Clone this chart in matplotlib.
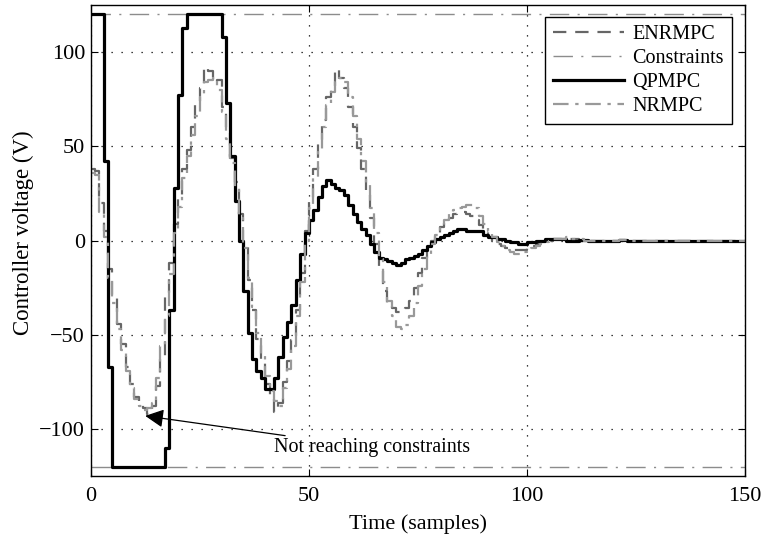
import numpy as np
import matplotlib
matplotlib.use("Agg")
import matplotlib.pyplot as plt

plt.rcParams['font.family'] = ['Liberation Serif', 'DejaVu Serif']
plt.rcParams['mathtext.fontset'] = 'stix'

# controller voltage per sample
qpmpc = [120, 120, 120, 42, -67, -120, -120, -120, -120, -120,
         -120, -120, -120, -120, -120, -120, -120, -110, -37, 28,
         77, 113, 120, 120, 120, 120, 120, 120, 120, 120,
         108, 73, 45, 21, 0, -27, -49, -63, -69, -73,
         -79, -79, -73, -62, -51, -43, -34, -21, -7, 4,
         11, 16, 23, 29, 32, 30, 28, 27, 24, 19,
         14, 10, 6, 3, -2, -6, -9, -10, -11, -12,
         -13, -12, -10, -9, -8, -7, -5, -3, -1, 1,
         2, 3, 4, 5, 6, 6, 5, 5, 5, 5,
         3, 2, 2, 1, 1, 0, -1, -1, -2, -2,
         -1, -1, 0, 0, 1, 1, 1, 1, 1, 0,
         0, 0, 0.5, 0.5, 0, 0, 0, -0.5, 0, 0,
         0, 0.5, 0.5, 0, 0, 0, 0, 0, 0, 0,
         0, 0, 0, 0, 0, 0, 0, 0, 0, 0,
         0, 0, 0, 0, 0, 0, 0, 0, 0, 0, 0]

enrmpc = [38, 37, 20, 5, -15, -30, -44, -55, -67, -76,
          -83, -86, -89, -92, -88, -77, -61, -30, -12, 9,
          23, 38, 48, 60, 74, 81, 92, 90, 84, 85,
          71, 57, 44, 31, 14, -1, -21, -37, -52, -64,
          -76, -84, -91, -86, -75, -64, -53, -37, -17, 5,
          22, 38, 52, 64, 76, 82, 91, 86, 81, 71,
          60, 49, 38, 24, 12, -2, -16, -27, -33, -36,
          -38, -37, -36, -32, -25, -17, -9, -4, 0, 3,
          7, 10, 12, 14, 15, 15, 14, 13, 11, 8,
          5, 2, 0, -2, -3, -4, -5, -5, -5, -5,
          -4, -3, -2, -1, 0, 0, 1, 1, 1, 1,
          1, 1, 0, 0, 0, 0, -0.5, -0.5, 0, 0,
          0, 0.5, 0.5, 0, 0, 0, 0, 0, 0, 0,
          0, 0, 0, 0, 0, 0, 0, 0, 0, 0,
          0, 0, 0, 0, 0, 0, 0, 0, 0, 0, 0]

nrmpc = [36, 35, 15, 2, -20, -33, -47, -58, -69, -78,
         -84, -88, -90, -89, -86, -73, -56, -40, -18, 4,
         18, 33, 45, 56, 66, 76, 84, 85, 86, 80,
         68, 54, 41, 28, 12, -4, -20, -35, -49, -60,
         -72, -80, -85, -88, -78, -68, -56, -40, -22, 0,
         17, 33, 48, 60, 72, 79, 84, 86, 84, 76,
         66, 54, 42, 30, 17, 4, -10, -22, -32, -40,
         -46, -47, -45, -40, -33, -24, -15, -8, -2, 3,
         7, 11, 14, 16, 17, 18, 19, 19, 17, 13,
         9, 5, 2, -1, -3, -5, -6, -7, -7, -6,
         -5, -4, -3, -2, -1, 0, 1, 1, 1, 2,
         1, 1, 1, 0, 0, 0, -0.5, -0.5, 0, 0,
         0, 0.5, 0.5, 0.5, 0, 0, 0, 0, 0, 0,
         0, 0, 0, 0, 0, 0, 0, 0, 0, 0,
         0, 0, 0, 0, 0, 0, 0, 0, 0, 0, 0]

u_max = 120
u_min = -120
t = np.arange(len(qpmpc))

fig = plt.figure(figsize=(7.62, 5.43), dpi=100)
ax = fig.add_axes([0.119, 0.123, 0.859, 0.868])

ax.plot(t, enrmpc, color='0.4', lw=1.6, ls=(0, (6, 4)), drawstyle='steps-post', label='ENRMPC')
ax.axhline(u_max, color='0.55', lw=1.0, ls=(0, (14, 6, 1.5, 6)), label='Constraints')
ax.axhline(u_min, color='0.55', lw=1.0, ls=(0, (14, 6, 1.5, 6)))
ax.plot(t, qpmpc, color='k', lw=2.3, drawstyle='steps-post', label='QPMPC')
ax.plot(t, nrmpc, color='0.6', lw=1.6, ls=(0, (7, 3, 1.5, 3)), drawstyle='steps-post', label='NRMPC')

ax.set_xlim(0, 150)
ax.set_ylim(-125, 125)
ax.set_xticks([0, 50, 100, 150])
ax.set_yticks([-100, -50, 0, 50, 100])
ax.grid(True, color='k', ls=(0, (1, 7)), lw=0.9)
ax.tick_params(direction='in', top=True, right=True, labelsize=16, length=5)
ax.tick_params(axis='y', pad=4)
ax.tick_params(axis='x', pad=8)
for s in ax.spines.values():
    s.set_linewidth(1.0)

ax.set_xlabel('Time (samples)', fontsize=16, labelpad=6)
ax.set_ylabel('Controller voltage (V)', fontsize=16.5)
ax.yaxis.set_label_coords(-0.087, 0.516)

ax.annotate('Not reaching constraints', xy=(12.5, -93), xytext=(42, -110),
            fontsize=14.5, va='center', ha='left',
            arrowprops=dict(arrowstyle='-|>', color='k', lw=0.9, mutation_scale=28,
                            shrinkA=0, shrinkB=0))

leg = ax.legend(loc='upper right', bbox_to_anchor=(0.98, 0.975), fontsize=14.5,
                fancybox=False, edgecolor='k', framealpha=1, handlelength=3.5,
                borderpad=0.4, labelspacing=0.25, handletextpad=0.45,
                borderaxespad=0)
leg.get_frame().set_linewidth(1.0)

fig.savefig('out.png', dpi=100)
